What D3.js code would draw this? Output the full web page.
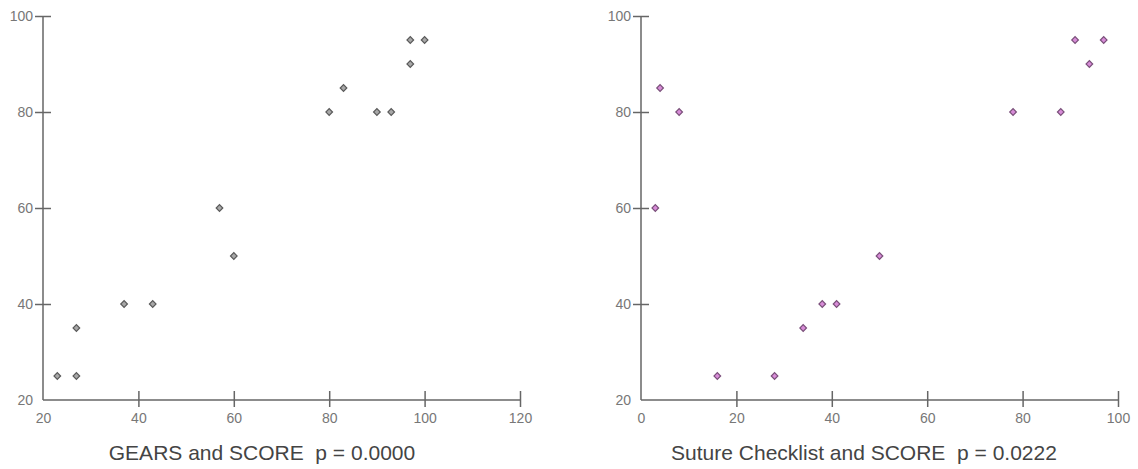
<!DOCTYPE html>
<html>
<head>
<meta charset="utf-8">
<script src="https://cdn.jsdelivr.net/npm/d3@7"></script>
<style>
  body { margin: 0; background: #fff; }
  .axis path, .axis line { stroke: #666; stroke-width: 1.5; }
</style>
</head>
<body>
<script>
// left panel: GEARS vs SCORE
var gearsX = [23, 27, 27, 37, 43, 57, 60, 80, 83, 90, 93, 97, 97, 100],
	gearsY = [25, 25, 35, 40, 40, 60, 50, 80, 85, 80, 80, 90, 95, 95];

// right panel: Suture Checklist vs SCORE
var sutureX = [3, 4, 8, 16, 28, 34, 38, 41, 50, 78, 88, 91, 94, 97],
	sutureY = [60, 85, 80, 25, 25, 35, 40, 40, 50, 80, 80, 95, 90, 95];

var leftXTicks = [20, 40, 60, 80, 100, 120],
	rightXTicks = [0, 20, 40, 60, 80, 100],
	yTicks = [20, 40, 60, 80, 100];

var titles = ["GEARS and SCORE  p = 0.0000", "Suture Checklist and SCORE  p = 0.0222"];

var svg = d3.select('body')
	.append('svg')
	.attr('width', 1138)
	.attr('height', 469);

var plotTop = 16, plotBottom = 400;
var fontFam = 'Arial, "Liberation Sans", sans-serif';

function panel(left, right, xdom, xticks, xs, ys, fill, stroke, title, titleX) {
	var x = d3.scaleLinear().domain(xdom).range([left, right]);
	var y = d3.scaleLinear().domain([20, 100]).range([plotBottom, plotTop]);

	// x axis, ticks cross the line
	var gx = svg.append('g')
		.attr('class', 'axis')
		.attr('transform', 'translate(0,' + plotBottom + ')')
		.call(d3.axisBottom(x).tickValues(xticks).tickSize(7).tickPadding(6));
	gx.selectAll('.tick line').attr('y1', -9);
	gx.selectAll('.tick').filter(function(d) { return d === xdom[0]; }).select('line').remove();
	gx.select('.domain').attr('d', 'M' + left + ',0H' + right);
	gx.selectAll('text').attr('fill', '#777').attr('font-size', '14px').attr('font-family', fontFam);

	// y axis
	var gy = svg.append('g')
		.attr('class', 'axis')
		.attr('transform', 'translate(' + left + ',0)')
		.call(d3.axisLeft(y).tickValues(yTicks).tickSize(8).tickPadding(2));
	gy.selectAll('.tick line').attr('x1', 8);
	gy.selectAll('.tick').filter(function(d) { return d === 20; }).select('line').remove();
	gy.select('.domain').attr('d', 'M0,' + plotTop + 'V' + plotBottom);
	gy.selectAll('text').attr('fill', '#777').attr('font-size', '14px').attr('font-family', fontFam);

	// points: square turned 45 degrees
	var sym = d3.symbol().type(d3.symbolSquare).size(22);
	svg.append('g').selectAll('path')
		.data(xs)
		.enter().append('path')
		.attr('d', sym)
		.attr('transform', function(d, i) { return 'translate(' + x(xs[i]) + ',' + y(ys[i]) + ') rotate(45)'; })
		.attr('fill', fill)
		.attr('stroke', stroke)
		.attr('stroke-width', 1.2);

	svg.append('text')
		.attr('x', titleX)
		.attr('y', 460)
		.attr('text-anchor', 'middle')
		.attr('fill', '#444')
		.attr('font-family', fontFam)
		.attr('font-size', '21px')
		.style('white-space', 'pre')
		.text(title);
}

panel(43, 520, [20, 120], leftXTicks, gearsX, gearsY, '#a8a8a8', '#5a5a5a', titles[0], 262);
panel(641, 1118, [0, 100], rightXTicks, sutureX, sutureY, '#d88cd8', '#7a4f7a', titles[1], 864);
</script>
</body>
</html>
